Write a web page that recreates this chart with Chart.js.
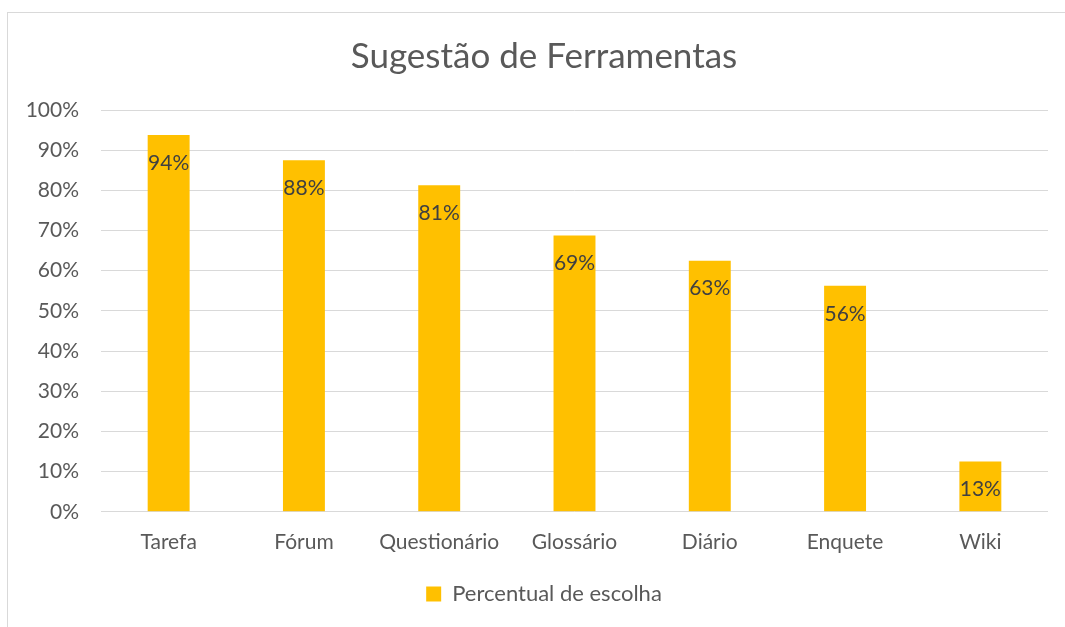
<!DOCTYPE html>
<html>
<head>
<meta charset="utf-8">
<script src="https://cdn.jsdelivr.net/npm/chart.js@4.4.0/dist/chart.umd.min.js"></script>
<style>
  html, body { margin: 0; padding: 0; background: #fff; }
  #wrap { width: 1065px; height: 627px; position: relative; }
</style>
</head>
<body>
<div id="wrap"><canvas id="chart1" width="1065" height="627"></canvas></div>
<script>
const categories = ['Tarefa', 'Fórum', 'Questionário', 'Glossário', 'Diário', 'Enquete', 'Wiki'];
const percentual = [93.75, 87.5, 81.25, 68.75, 62.5, 56.25, 12.5];
const yTicks = [0, 10, 20, 30, 40, 50, 60, 70, 80, 90, 100];

const fontFamily = 'Lato, "Open Sans", sans-serif';

// frame around chart, like the office chart border
const framePlugin = {
  id: 'frame',
  beforeDraw(chart) {
    const c = chart.ctx;
    c.save();
    c.strokeStyle = '#d9d9d9';
    c.lineWidth = 1;
    c.strokeRect(7.5, 12.5, 2000, 2000);
    c.restore();
  }
};

// value labels inside the top of each bar
const labelsPlugin = {
  id: 'barLabels',
  afterDatasetsDraw(chart) {
    const c = chart.ctx;
    const meta = chart.getDatasetMeta(0);
    c.save();
    c.font = '21px ' + fontFamily;
    c.fillStyle = '#404040';
    c.textAlign = 'center';
    c.textBaseline = 'middle';
    meta.data.forEach((bar, i) => {
      c.fillText(Math.round(percentual[i]) + '%', bar.x, bar.y + 28);
    });
    c.restore();
  }
};

const ctx1 = document.getElementById('chart1').getContext('2d');
const chart1 = new Chart(ctx1, {
  type: 'bar',
  data: {
    labels: categories,
    datasets: [{
      label: 'Percentual de escolha',
      data: percentual,
      backgroundColor: '#FFC000',
      borderWidth: 0,
      categoryPercentage: 1,
      barPercentage: 0.31
    }]
  },
  options: {
    responsive: false,
    animation: false,
    layout: { padding: { left: 23, right: 0, top: 0, bottom: 12 } },
    plugins: {
      title: {
        display: true,
        text: 'Sugestão de Ferramentas',
        color: '#595959',
        font: { family: fontFamily, size: 35, weight: 'normal' },
        padding: { top: 36, bottom: 32 }
      },
      legend: {
        position: 'bottom',
        labels: {
          color: '#595959',
          font: { family: fontFamily, size: 22 },
          boxWidth: 15,
          boxHeight: 15,
          padding: 10
        }
      },
      tooltip: { enabled: false }
    },
    scales: {
      x: {
        grid: { display: false, drawTicks: false },
        border: { display: false },
        ticks: {
          color: '#595959',
          font: { family: fontFamily, size: 21 },
          padding: 18,
          maxRotation: 0
        }
      },
      y: {
        min: 0,
        max: 100,
        afterFit(scale) { scale.width = 78; },
        afterBuildTicks(scale) { scale.ticks = yTicks.map(v => ({ value: v })); },
        grid: { color: '#d9d9d9', lineWidth: 1, drawTicks: false },
        border: { display: false },
        ticks: {
          color: '#595959',
          font: { family: fontFamily, size: 21 },
          padding: 22,
          callback: v => v + '%'
        }
      },
      // empty spacer on the right
      yRight: {
        position: 'right',
        min: 0,
        max: 100,
        afterFit(scale) { scale.width = 17; },
        grid: { display: false, drawTicks: false },
        border: { display: false },
        ticks: { display: false }
      }
    }
  },
  plugins: [framePlugin, labelsPlugin]
});
</script>
</body>
</html>
